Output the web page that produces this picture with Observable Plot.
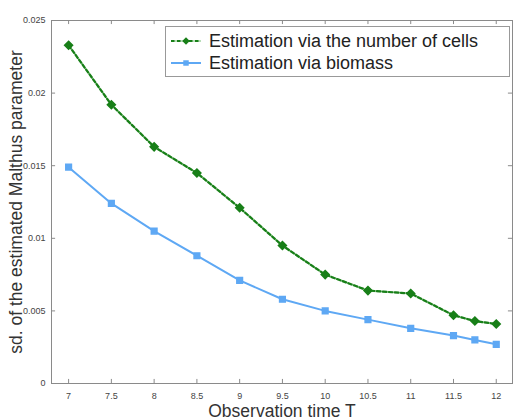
<!DOCTYPE html>
<html>
<head>
<meta charset="utf-8">
<script src="https://cdn.jsdelivr.net/npm/d3@7"></script>
<script src="https://cdn.jsdelivr.net/npm/@observablehq/plot@0.6"></script>
<style>
  html, body { margin: 0; padding: 0; background: #fff; }
  #chart svg { display: block; }
</style>
</head>
<body>
<div id="chart"></div>
<script>
// Observation times T
const times = [7, 7.5, 8, 8.5, 9, 9.5, 10, 10.5, 11, 11.5, 11.75, 12];
// sd. of the estimated Malthus parameter, per method
const sdCells   = [0.0233, 0.0192, 0.0163, 0.0145, 0.0121, 0.0095, 0.0075, 0.0064, 0.0062, 0.0047, 0.0043, 0.0041];
const sdBiomass = [0.0149, 0.0124, 0.0105, 0.0088, 0.0071, 0.0058, 0.0050, 0.0044, 0.0038, 0.0033, 0.0030, 0.0027];
const seriesNames = ["Estimation via the number of cells", "Estimation via biomass"];
const xTicks = [7, 7.5, 8, 8.5, 9, 9.5, 10, 10.5, 11, 11.5, 12];
const yTicks = [0, 0.005, 0.01, 0.015, 0.02, 0.025];

const green = "#187f18";
const greenLight = "#b8deb8";
const blue = "#5ea8f4";

const cells = times.map((t, i) => ({t, v: sdCells[i]}));
const biomass = times.map((t, i) => ({t, v: sdBiomass[i]}));

const font = "'Liberation Sans', Arial, Helvetica, sans-serif";
const titleSize = 17.5;

const plot = Plot.plot({
  width: 516,
  height: 420,
  marginLeft: 51,
  marginRight: 4,
  marginTop: 20,
  marginBottom: 37,
  style: {fontFamily: font, background: "#fff", overflow: "visible"},
  x: {domain: [6.8, 12.19]},
  y: {domain: [0, 0.025]},
  marks: [
    Plot.frame({stroke: "#8a8a8a", strokeWidth: 1}),
    // inward tick marks on all four sides
    Plot.ruleX(xTicks, {x: d => d, y1: 0, y2: 0.00028, stroke: "#8a8a8a"}),
    Plot.ruleX(xTicks, {x: d => d, y1: 0.025, y2: 0.02472, stroke: "#8a8a8a"}),
    Plot.ruleY(yTicks, {y: d => d, x1: 6.8, x2: 6.848, stroke: "#8a8a8a"}),
    Plot.ruleY(yTicks, {y: d => d, x1: 12.19, x2: 12.142, stroke: "#8a8a8a"}),
    Plot.axisX(xTicks, {tickSize: 0, tickPadding: 9, fontSize: 9, fill: "#444", tickFormat: d => String(d),
      label: "Observation time T", labelAnchor: "center", labelArrow: "none", labelOffset: 33}),
    Plot.axisY(yTicks, {tickSize: 0, tickPadding: 6, fontSize: 9, fill: "#444", tickFormat: d => String(d),
      label: "sd. of the estimated Malthus parameter", labelAnchor: "center", labelArrow: "none", labelOffset: 42}),
    Plot.line(biomass, {x: "t", y: "v", stroke: blue, strokeWidth: 2}),
    Plot.dot(biomass, {x: "t", y: "v", symbol: "square", r: 3.2, fill: blue, stroke: blue}),
    Plot.line(cells, {x: "t", y: "v", stroke: greenLight, strokeWidth: 2.2}),
    Plot.line(cells, {x: "t", y: "v", stroke: green, strokeWidth: 2.2, strokeDasharray: "3.5,2.5"}),
    Plot.dot(cells, {x: "t", y: "v", symbol: "diamond2", r: 3.6, fill: green, stroke: green})
  ]
});

// Larger axis titles
d3.select(plot).selectAll("g[aria-label='x-axis label'] text, g[aria-label='y-axis label'] text")
  .attr("font-size", titleSize).attr("fill", "#333");

// Legend box in the upper right of the frame
const svg = d3.select(plot);
const lg = svg.append("g").attr("font-family", font).attr("text-anchor", "start");
lg.append("rect").attr("x", 165.5).attr("y", 26.5).attr("width", 344).attr("height", 50)
  .attr("fill", "#fff").attr("stroke", "#999");
const entries = [
  {name: seriesNames[0], color: green, under: greenLight, dash: "3.5,2.5", symbol: d3.symbolDiamond2, size: 36},
  {name: seriesNames[1], color: blue, under: null, dash: null, symbol: d3.symbolSquare, size: 30}
];
entries.forEach((e, i) => {
  const y = 41 + i * 22;
  if (e.under) lg.append("line").attr("x1", 171).attr("x2", 201).attr("y1", y).attr("y2", y)
    .attr("stroke", e.under).attr("stroke-width", 2);
  lg.append("line").attr("x1", 171).attr("x2", 201).attr("y1", y).attr("y2", y)
    .attr("stroke", e.color).attr("stroke-width", 2).attr("stroke-dasharray", e.dash);
  lg.append("path").attr("d", d3.symbol(e.symbol, e.size)()).attr("transform", `translate(186,${y})`)
    .attr("fill", e.color);
  lg.append("text").attr("x", 209).attr("y", y + 6).attr("font-size", 18).attr("fill", "#222").text(e.name);
});

document.getElementById("chart").append(plot);
</script>
</body>
</html>
